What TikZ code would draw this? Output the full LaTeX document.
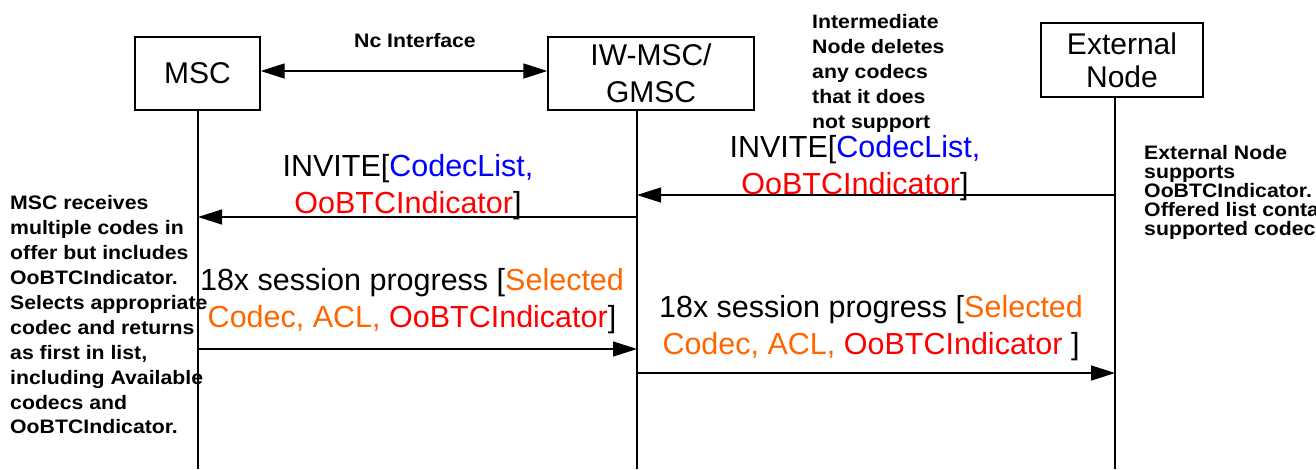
\documentclass[tikz,border=0pt]{standalone}
\usepackage{fontspec}
\setmainfont{Liberation Sans}
\newfontfamily\notefont[FakeStretch=1.09]{Liberation Sans}
\usetikzlibrary{arrows.meta}
\definecolor{cblue}{RGB}{0,0,255}
\definecolor{cred}{RGB}{255,0,0}
\definecolor{corange}{RGB}{255,102,0}
\newcommand\mytightlines{\lineskiplimit-20pt\relax}
\begin{document}
\begin{tikzpicture}[x=1pt,y=-1pt,
  ent/.style={draw,line width=1.4pt,inner sep=0pt,align=center},
  life/.style={line width=1.4pt},
  tip/.tip={Triangle[length=24pt,width=15pt]},
  msg/.style={line width=1.4pt,-tip},
  lbl/.style={inner sep=0pt,align=center,font=\fontsize{30.5}{37}\selectfont},
  note/.style={inner sep=0pt,align=left,anchor=north west}]
\path[use as bounding box] (0,0) rectangle (1316,469);
\clip (0,0) rectangle (1316,469);

% entities
\node[ent,minimum width=125pt,minimum height=73pt,font=\fontsize{30}{34}\selectfont] (msc) at (197.5,73.5) {MSC};
\node[ent,minimum width=206pt,minimum height=73pt,font=\fontsize{30}{37}\selectfont] (iw) at (651,73.5) {IW-MSC/\\GMSC};
\node[ent,minimum width=162pt,minimum height=74pt,font=\fontsize{30}{33}\selectfont] (ext) at (1122,60) {External\\Node};

% lifelines
\coordinate (mscB) at (198,469);
\coordinate (iwB) at (637,469);
\coordinate (extB) at (1115,469);
\draw[life] (mscB |- msc.south) -- (mscB);
\draw[life] (iwB |- iw.south) -- (iwB);
\draw[life] (extB |- ext.south) -- (extB);

% Nc interface
\coordinate (ncy) at (0,71);
\draw[line width=1.4pt,tip-tip] (msc.east |- ncy) -- (iw.west |- ncy);
\node[inner sep=0pt,font=\fontsize{19.5}{24}\notefont\bfseries] (nc) at (415,41) {Nc Interface};

% message coordinates
\coordinate (m1s) at (637,217); \coordinate (m1e) at (198,217);
\coordinate (m2s) at (1115,195); \coordinate (m2e) at (637,195);
\coordinate (m3s) at (198,349); \coordinate (m3e) at (637,349);
\coordinate (m4s) at (637,373); \coordinate (m4e) at (1115,373);
\draw[msg] (m1s) -- (m1e);
\draw[msg] (m2s) -- (m2e);
\draw[msg] (m3s) -- (m3e);
\draw[msg] (m4s) -- (m4e);

% message labels
\node[lbl] (l1) at (408,187) {INVITE[\textcolor{cblue}{CodecList,}\\\textcolor{cred}{OoBTCIndicator}]};
\node[lbl] (l2) at (855,168) {INVITE[\textcolor{cblue}{CodecList,}\\\textcolor{cred}{OoBTCIndicator}]};
\node[lbl] (l3) at (412,301.5) {18x session progress [\textcolor{corange}{Selected}\\\textcolor{corange}{Codec, ACL, }\textcolor{cred}{OoBTCIndicator}]};
\node[lbl] (l4) at (871,328) {18x session progress [\textcolor{corange}{Selected}\\\textcolor{corange}{Codec, ACL, }\textcolor{cred}{OoBTCIndicator} ]};

% notes
\node[note,font={\fontsize{19.5}{24.9}\notefont\bfseries}] (n1) at (10,195.5) {MSC receives\\multiple codes in\\offer but includes\\OoBTCIndicator.\\Selects appropriate\\codec and returns\\as first in list,\\including Available\\codecs and\\OoBTCIndicator.};
\node[note,font={\fontsize{19.5}{25}\notefont\bfseries}] (n2) at (812,14.5) {Intermediate\\Node deletes\\any codecs\\that it does\\not support};
\node[note,font={\fontsize{19.5}{19}\notefont\bfseries\mytightlines}] (n3) at (1144,145.5) {External Node\\supports\\OoBTCIndicator.\\Offered list contains\\supported codecs};
\end{tikzpicture}
\end{document}
